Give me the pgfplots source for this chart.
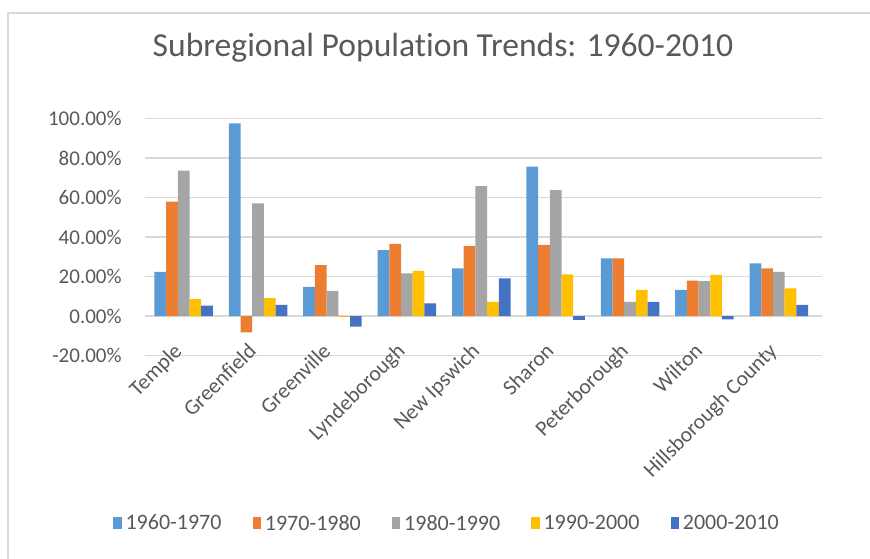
\documentclass[border=0pt]{standalone}
\usepackage{fontspec}
\setmainfont{Carlito}[Ligatures={NoCommon}]
\usepackage{pgfplots}
\pgfplotsset{compat=1.18}
\usepackage{pgfplotstable}
\definecolor{cA}{HTML}{5B9BD5}
\definecolor{cB}{HTML}{ED7D31}
\definecolor{cC}{HTML}{A5A5A5}
\definecolor{cD}{HTML}{FFC000}
\definecolor{cE}{HTML}{4472C4}
\definecolor{txt}{HTML}{595959}
\definecolor{gridc}{HTML}{D9D9D9}

\pgfplotstableread{
x a b c d e
0 22.4 57.9 73.6 8.6 5.2
1 97.5 -8.3 57.0 9.0 5.7
2 14.8 25.8 12.7 -0.5 -5.4
3 33.4 36.5 21.6 22.8 6.4
4 24.1 35.4 65.8 7.2 19.1
5 75.6 36.0 63.8 21.1 -2.0
6 29.2 29.2 7.2 13.2 7.2
7 13.2 17.9 17.6 20.8 -1.7
8 26.7 24.1 22.4 14.0 5.6
}\datatable

\begin{document}
\begin{tikzpicture}
\useasboundingbox (0,0) rectangle (435pt,279pt);
\draw[gridc, line width=1pt] (4pt,-10pt) -- (4pt,272.5pt) -- (445pt,272.5pt);
\begin{axis}[
  at={(72.5pt,101.25pt)}, anchor=south west,
  scale only axis, width=338.5pt, height=118.5pt,
  xmin=-0.52, xmax=8.58, ymin=-20, ymax=100,
  ybar=0pt, bar width=5.85pt,
  axis line style={draw=none},
  ymajorgrids, grid style={gridc, line width=0.75pt},
  major tick length=0pt,
  xtick={0,...,8},
  xticklabels={Temple,Greenfield,Greenville,Lyndeborough,New Ipswich,Sharon,Peterborough,Wilton,Hillsborough County},
  xticklabel style={rotate=45, anchor=north east, inner sep=0pt, font=\fontsize{10.8}{12}\selectfont, text=txt, yshift=9pt, xshift=1pt},
  ytick={-20,0,20,40,60,80,100},
  yticklabels={-20.00\%,0.00\%,20.00\%,40.00\%,60.00\%,80.00\%,100.00\%},
  yticklabel style={anchor=east, inner sep=0pt, xshift=-11.5pt, font=\fontsize{10.5}{12}\selectfont, text=txt},
  legend columns=5,
  legend style={draw=none, fill=none, at={(0.4476,-0.711)}, anchor=center,
    font=\fontsize{11}{13}\selectfont, text=txt,
    /tikz/every even column/.append style={column sep=13.5pt}},
  legend image code/.code={\fill[#1] (0pt,-2.6pt) rectangle (4.2pt,3.4pt);},
]
\addplot[fill=cA, draw=none] table[x=x,y=a]{\datatable};
\addplot[fill=cB, draw=none] table[x=x,y=b]{\datatable};
\addplot[fill=cC, draw=none] table[x=x,y=c]{\datatable};
\addplot[fill=cD, draw=none] table[x=x,y=d]{\datatable};
\addplot[fill=cE, draw=none] table[x=x,y=e]{\datatable};
\legend{1960-1970,1970-1980,1980-1990,1990-2000,2000-2010}
\end{axis}
\node[text=txt, font=\fontsize{16.8}{20}\selectfont] at (221.5pt,255pt) {Subregional Population Trends: 1960-2010};
\end{tikzpicture}
\end{document}
